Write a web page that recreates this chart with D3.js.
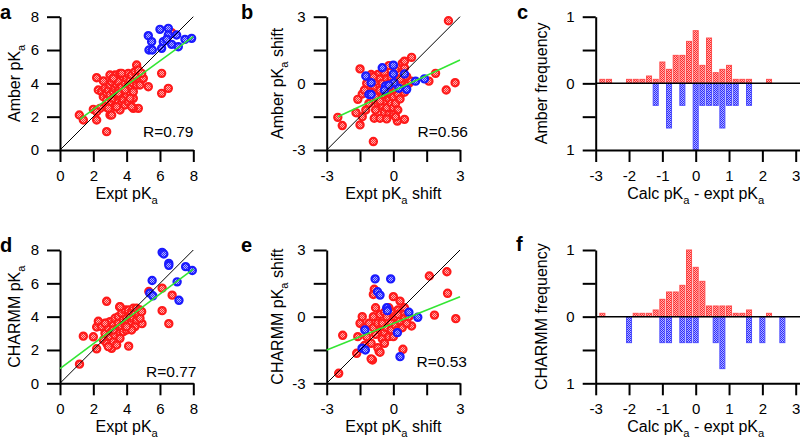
<!DOCTYPE html>
<html>
<head>
<meta charset="utf-8">
<script src="https://cdn.jsdelivr.net/npm/d3@7"></script>
<style>
  body { margin: 0; background: #fff; }
  svg { display: block; }
</style>
</head>
<body>
<svg id="fig"></svg>
<script>
// ---- data ----
// scatter panels: [expt, calc]
const aRed = [[1.16,2.1],[1.4,1.8],[2.0,2.44],[2.2,2.34],[2.2,1.8],[2.2,4.34],[2.3,3.6],[2.8,1.1],[2.6,4.14],[3.0,2.1],[3.1,2.1],[5.3,3.8],[6.1,4.6],[6.1,3.4],[6.5,3.7],[4.7,2.5],[4.4,2.5],[4.4,3.1],[4.6,5.1],[4.9,4.3],[6.7,7.04],
  [2.5,3.5],[2.6,3.2],[2.7,3.7],[2.8,3.4],[2.8,3.0],[2.9,3.6],[3.0,3.3],[3.0,3.9],[3.1,4.1],[3.1,2.9],[3.2,3.5],[3.2,3.1],[3.3,4.5],[3.3,3.7],[3.3,2.6],[3.4,3.9],[3.4,3.3],[3.5,4.1],[3.5,2.9],[3.5,3.6],[3.6,4.6],[3.6,3.2],[3.6,2.4],[3.7,3.8],[3.7,2.8],[3.8,4.4],[3.8,3.5],[3.8,3.0],[3.9,4.0],[3.9,2.7],[4.0,3.7],[4.0,4.3],[4.0,3.3],[4.1,4.6],[4.1,3.9],[4.1,2.9],[4.2,3.5],[4.2,4.2],[4.3,4.5],[4.3,3.8],[4.4,4.0],[4.4,3.5],[4.5,4.7],[4.5,4.2],[4.6,3.9],[4.6,4.4],[4.7,4.8],[4.8,4.1],[4.8,3.9],[5.0,4.3],[3.0,4.5],[2.7,2.6],[3.4,2.6],[3.9,3.6],[4.2,3.1],[2.4,2.5],[2.9,2.5],[3.2,4.3],[3.7,4.6],[4.9,4.6],[4.3,2.6],[3.5,3.4],[2.2,2.3]];
const aBlue = [[5.3,6.86],[5.5,6.5],[5.34,6.0],[5.54,6.0],[6.0,7.24],[6.5,7.3],[6.5,6.9],[6.2,6.5],[6.4,6.64],[6.7,6.34],[6.1,6.1],[7.0,6.9],[7.1,6.2],[7.5,6.64],[7.9,6.7]];
const aFit = [[1.2,1.85],[8,6.8]];

const bRed = [[2.48,2.82],[2.78,0.03],[2.38,-0.3],[1.9,0.45],[1.6,0.1],[0.82,1.17],[-1.5,0.65],[-2.5,-1.53],[-2.3,-1.9],[-1.5,-1.87],[-0.9,-2.62],[0.18,-1.7],[0.5,-1.62],[-0.86,-1.57],[-0.6,-1.57],[-1.6,-0.72],[-1.68,-1.32],[-1.4,-0.48],[-1.24,-1.2],
  [-1.0,0.4],[-0.9,-0.2],[-0.8,0.1],[-0.8,-0.6],[-0.7,-0.9],[-0.7,0.4],[-0.6,-0.3],[-0.6,0.2],[-0.5,-1.0],[-0.5,-0.6],[-0.5,0.0],[-0.4,-1.3],[-0.4,-0.8],[-0.4,0.5],[-0.3,-0.4],[-0.3,-1.1],[-0.3,0.2],[-0.2,-0.7],[-0.2,-1.4],[-0.2,0.0],[-0.1,-0.5],[-0.1,-0.9],[-0.1,0.3],[0.0,-0.2],[0.0,-1.1],[0.0,-0.6],[0.1,0.6],[0.1,-0.3],[0.1,-0.9],[0.2,-1.2],[0.2,0.1],[0.2,-0.5],[0.3,0.4],[0.3,-0.1],[0.3,-0.7],[0.4,0.9],[0.4,0.0],[0.5,0.7],[0.5,-0.4],[0.6,0.3],[0.6,-0.1],[0.7,0.0],[0.8,0.1],[-1.3,-0.3],[-1.2,0.0],[-1.1,-0.9],[-1.0,-0.4],[-0.9,0.3],[-1.4,-1.5],[-0.3,-1.6],[0.0,-1.4],[0.5,1.0],[-0.8,-1.2],[0.3,0.2],[-0.6,-0.8],[0.1,-1.5],[-0.2,0.8]];
const bBlue = [[-1.24,0.33],[-1.0,0.03],[-1.1,-0.5],[-1.0,-0.5],[-0.5,0.7],[-0.35,-0.12],[-0.4,-0.3],[0,0.82],[0,0.42],[0.03,0.03],[0.25,-0.22],[0.5,0.42],[0.6,-0.27],[1.0,0.1],[1.4,0.2],[-0.2,-0.08]];
const bFit = [[-2.5,-1.5],[3,1.05]];

const dRed = [[1.17,1.15],[1.4,2.83],[2.0,2.79],[2.2,2.07],[2.2,3.38],[2.3,3.72],[2.8,4.92],[3.58,4.58],[4.12,2.23],[5.33,5.51],[6.13,5.71],[6.73,5.29],[6.13,4.36],[6.53,3.58],[4.92,3.58],
  [2.5,3.4],[2.6,2.6],[2.7,3.0],[2.8,3.6],[2.8,2.4],[2.9,3.3],[3.0,2.8],[3.0,3.7],[3.1,2.1],[3.1,3.1],[3.2,2.5],[3.2,3.5],[3.3,3.9],[3.3,2.9],[3.4,3.3],[3.4,2.3],[3.5,4.0],[3.5,3.6],[3.6,3.0],[3.6,2.7],[3.7,3.4],[3.7,4.2],[3.8,3.8],[3.8,3.1],[3.9,4.4],[3.9,3.5],[4.0,3.2],[4.0,3.9],[4.1,4.4],[4.1,3.6],[4.2,3.3],[4.2,4.0],[4.3,3.7],[4.3,4.3],[4.4,4.5],[4.4,3.9],[4.5,3.4],[4.5,4.2],[4.6,3.8],[4.6,4.5],[4.7,4.1],[4.8,4.4],[4.8,3.9],[4.9,4.3],[4.3,3.2],[3.2,3.2],[2.9,2.2],[3.6,4.6],[2.7,3.6],[4.0,3.4]];
const dBlue = [[6.13,7.86],[6.23,7.76],[6.53,7.2],[6.53,7.08],[5.53,6.17],[5.39,5.41],[5.57,5.25],[7.03,6.09],[7.54,7.0],[7.94,6.77],[7.14,4.98]];
const dFit = [[0,0.88],[8,6.85]];

const eRed = [[2.41,2.02],[2.44,1.05],[1.62,1.83],[1.85,0.07],[2.81,-0.09],[-2.46,-2.55],[-2.28,-0.84],[-1.65,-1.65],[-0.94,-1.95],[-0.86,1.23],[0.43,-1.47],[-0.64,-1.57],[0.82,-0.42],
  [-1.5,-0.3],[-1.4,0.0],[-1.3,-0.5],[-1.2,-0.9],[-1.1,-0.3],[-1.0,-1.2],[-0.9,-0.5],[-0.9,0.0],[-0.8,-0.8],[-0.8,0.4],[-0.7,-0.3],[-0.7,-1.4],[-0.6,-0.6],[-0.6,0.1],[-0.5,-1.0],[-0.5,-0.3],[-0.4,-0.7],[-0.4,0.2],[-0.4,-1.2],[-0.3,-0.5],[-0.3,0.0],[-0.2,-0.9],[-0.2,0.4],[-0.1,-0.3],[-0.1,-0.6],[0.0,0.2],[0.0,-0.9],[0.1,-0.4],[0.1,0.0],[0.2,0.3],[0.2,-0.6],[0.3,0.7],[0.3,-0.2],[0.4,-0.5],[0.4,0.2],[0.5,0.4],[0.5,-0.1],[0.6,-0.3],[0.7,0.0],[-0.9,1.0],[-1.6,-0.9],[0.2,0.1],[-1.0,-1.9],[-0.6,-1.6],[0.0,0.9],[-1.3,-1.3]];
const eBlue = [[-0.82,1.7],[-0.12,1.7],[-0.71,1.12],[-0.6,0.97],[-0.3,0.4],[-0.27,0.27],[0.7,0.2],[1.1,-0.03],[-1.28,-0.6],[-1.41,-1.42],[-1.26,-1.5],[0.18,-0.72],[0.3,-1.8]];
const eFit = [[-3,-1.5],[3,0.9]];

// histograms: bin centres and frequencies
const binCenters = [-2.8,-2.6,-2.4,-2.2,-2.0,-1.8,-1.6,-1.4,-1.2,-1.0,-0.8,-0.6,-0.4,-0.2,0,0.2,0.4,0.6,0.8,1.0,1.2,1.4,1.6,1.8,2.0,2.2,2.4,2.6];
const cRed  = [0.06,0.06,0,0,0.06,0.06,0.06,0.11,0.06,0.32,0.21,0.42,0.42,0.63,0.79,0.27,0.68,0.16,0.21,0.27,0.06,0.06,0.06,0,0,0.06,0,0];
const cBlue = [0,0,0,0,0,0,0,0,0.33,0,0.67,0,0.33,0,1.0,0.33,0.33,0.33,0.67,0.33,0.33,0,0.33,0,0,0,0,0];
const fRed  = [0.05,0,0,0,0,0.05,0.05,0.05,0.1,0.26,0.37,0.37,0.47,1.0,0.74,0.53,0.16,0.16,0.16,0.16,0.05,0.05,0.1,0,0,0.05,0,0];
const fBlue = [0,0,0,0,0.39,0,0,0,0,0.39,0.39,0,0.39,0.39,0.39,0,0,0.39,0.78,0,0,0,0.39,0,0.39,0,0,0.39];

const scatterTicks = [0, 2, 4, 6, 8];
const shiftTicks = [-3, -1.5, 0, 1.5, 3];
const histXTicks = [-3, -2, -1, 0, 1, 2, 3];
const histYTicks = [-1, -0.5, 0, 0.5, 1];

const FONT = "Arial, 'Liberation Sans', Helvetica, sans-serif";

const svg = d3.select('#fig').attr('width', 800).attr('height', 440);
svg.append('rect').attr('width', 800).attr('height', 440).attr('fill', '#fff');

// checker fills like the original hatched marks
const defs = svg.append('defs');
function checker(id, light, dark) {
  let p = defs.append('pattern').attr('id', id)
    .attr('width', 2).attr('height', 2).attr('patternUnits', 'userSpaceOnUse');
  p.append('rect').attr('width', 2).attr('height', 2).attr('fill', light);
  p.append('rect').attr('width', 1).attr('height', 1).attr('fill', dark);
  p.append('rect').attr('x', 1).attr('y', 1).attr('width', 1).attr('height', 1).attr('fill', dark);
}
checker('redChk', '#ffb4b4', '#ff2a2a');
checker('blueChk', '#b4b4ff', '#2a2aff');

function styleAxis(g) {
  g.attr('font-size', 15).attr('font-family', FONT);
  g.select('.domain').attr('stroke-width', 2);
  g.selectAll('.tick line').attr('stroke-width', 2);
  g.selectAll('.tick text').attr('fill', '#000');
}

// text with subscripts; parts = [[str, isSub], ...]
function richText(sel, parts, size) {
  let sub = false;
  parts.forEach(([s, isSub]) => {
    let t = sel.append('tspan').text(s);
    if (isSub && !sub) t.attr('dy', 5).attr('font-size', size * 0.7);
    else if (!isSub && sub) t.attr('dy', -5);
    sub = isSub;
  });
}

function panelLetter(txt, x, y) {
  svg.append('text').attr('x', x).attr('y', y)
    .attr('font-family', FONT).attr('font-size', 20).attr('font-weight', 'bold')
    .text(txt);
}

function xTitle(parts, cx, y) {
  let t = svg.append('text').attr('x', cx).attr('y', y)
    .attr('text-anchor', 'middle').attr('font-family', FONT).attr('font-size', 16);
  richText(t, parts, 16);
}

function yTitle(parts, x, cy) {
  let t = svg.append('text').attr('transform', `translate(${x},${cy}) rotate(-90)`)
    .attr('text-anchor', 'middle').attr('font-family', FONT).attr('font-size', 16);
  richText(t, parts, 16);
}

function scatterPanel(o) {
  let x = d3.scaleLinear().domain(o.dom).range(o.xr);
  let y = d3.scaleLinear().domain(o.dom).range(o.yr);

  let xAxis = d3.axisBottom(x).tickValues(o.ticks).tickFormat(o.fmt)
    .tickSize(12).tickSizeOuter(0).tickPadding(8);
  let yAxis = d3.axisLeft(y).tickValues(o.ticks).tickFormat(o.fmt)
    .tickSize(13).tickSizeOuter(0).tickPadding(8);

  svg.append('g').attr('transform', `translate(0,${o.yr[0]})`).call(xAxis).call(styleAxis);
  svg.append('g').attr('transform', `translate(${o.xr[0]},0)`).call(yAxis).call(styleAxis);

  let g = svg.append('g');
  g.selectAll('circle.red').data(o.red).enter().append('circle')
    .attr('class', 'red')
    .attr('cx', (d) => x(d[0])).attr('cy', (d) => y(d[1])).attr('r', 3.6)
    .attr('fill', 'url(#redChk)').attr('stroke', '#ff1a1a').attr('stroke-width', 2.2);
  g.selectAll('circle.blue').data(o.blue).enter().append('circle')
    .attr('class', 'blue')
    .attr('cx', (d) => x(d[0])).attr('cy', (d) => y(d[1])).attr('r', 3.6)
    .attr('fill', 'url(#blueChk)').attr('stroke', '#1a1aff').attr('stroke-width', 2.2);

  // identity line
  svg.append('line')
    .attr('x1', x(o.dom[0])).attr('y1', y(o.dom[0]))
    .attr('x2', x(o.dom[1])).attr('y2', y(o.dom[1]))
    .attr('stroke', '#000').attr('stroke-width', 1);
  // fit line
  svg.append('line')
    .attr('x1', x(o.fit[0][0])).attr('y1', y(o.fit[0][1]))
    .attr('x2', x(o.fit[1][0])).attr('y2', y(o.fit[1][1]))
    .attr('stroke', '#33e633').attr('stroke-width', 1.6);

  svg.append('text').attr('x', o.rx).attr('y', o.ry)
    .attr('text-anchor', 'end').attr('font-family', FONT).attr('font-size', 15.5)
    .text(o.rText);

  xTitle(o.xTitle, (o.xr[0] + o.xr[1]) / 2, o.yr[0] + 48.5);
  yTitle(o.yTitle, o.ytx, (o.yr[0] + o.yr[1]) / 2);
}

function histPanel(o) {
  let x = d3.scaleLinear().domain([-3, 3]).range(o.xr);
  let xLong = d3.scaleLinear().domain([-3, x.invert(800)]).range([o.xr[0], 800]);
  let y = d3.scaleLinear().domain([-1, 1]).range(o.yr);
  let bw = 5;

  svg.append('g').selectAll('rect').data(binCenters.map((c, i) => [c, o.red[i]]).filter((d) => d[1] > 0))
    .enter().append('rect')
    .attr('x', (d) => x(d[0]) - bw / 2).attr('y', (d) => y(d[1]))
    .attr('width', bw).attr('height', (d) => y(0) - y(d[1]))
    .attr('fill', 'url(#redChk)').attr('stroke', '#ff4d4d').attr('stroke-width', 1);

  svg.append('g').selectAll('rect').data(binCenters.map((c, i) => [c, o.blue[i]]).filter((d) => d[1] > 0))
    .enter().append('rect')
    .attr('x', (d) => x(d[0]) - bw / 2).attr('y', y(0))
    .attr('width', bw).attr('height', (d) => y(-d[1]) - y(0))
    .attr('fill', 'url(#blueChk)').attr('stroke', '#4d4dff').attr('stroke-width', 1);

  svg.append('line')
    .attr('x1', x(-3)).attr('x2', 800).attr('y1', y(0)).attr('y2', y(0))
    .attr('stroke', '#000').attr('stroke-width', 1.5);

  let xAxis = d3.axisBottom(xLong).tickValues(histXTicks).tickFormat((d) => String(d))
    .tickSize(12).tickSizeOuter(0).tickPadding(8);
  let yAxis = d3.axisLeft(y).tickValues(histYTicks)
    .tickFormat((d) => Number.isInteger(d) ? String(Math.abs(d)) : '')
    .tickSize(13).tickSizeOuter(0).tickPadding(8);

  svg.append('g').attr('transform', `translate(0,${o.yr[0]})`).call(xAxis).call(styleAxis);
  svg.append('g').attr('transform', `translate(${o.xr[0]},0)`).call(yAxis).call(styleAxis);

  xTitle([['Calc pK', false], ['a', true], [' - expt pK', false], ['a', true]],
    (o.xr[0] + o.xr[1]) / 2, o.yr[0] + 48.5);
  yTitle([[o.yTitle, false]], o.ytx, (o.yr[0] + o.yr[1]) / 2);
}

const shiftFmt = (d) => (d % 3 === 0 ? String(d) : '');
const plainFmt = (d) => String(d);

scatterPanel({ dom: [0, 8], xr: [60, 193.3], yr: [150, 16.7], ticks: scatterTicks, fmt: plainFmt,
  red: aRed, blue: aBlue, fit: aFit, rText: 'R=0.79', rx: 193.5, ry: 137,
  xTitle: [['Expt pK', false], ['a', true]], yTitle: [['Amber pK', false], ['a', true]], ytx: 20 });
scatterPanel({ dom: [-3, 3], xr: [326.7, 460], yr: [150, 16.7], ticks: shiftTicks, fmt: shiftFmt,
  red: bRed, blue: bBlue, fit: bFit, rText: 'R=0.56', rx: 468, ry: 137,
  xTitle: [['Expt pK', false], ['a', true], [' shift', false]],
  yTitle: [['Amber pK', false], ['a', true], [' shift', false]], ytx: 283 });
histPanel({ xr: [595.7, 795.7], yr: [150, 16.7], red: cRed, blue: cBlue, yTitle: 'Amber frequency', ytx: 547 });

scatterPanel({ dom: [0, 8], xr: [60, 193.3], yr: [383.3, 250], ticks: scatterTicks, fmt: plainFmt,
  red: dRed, blue: dBlue, fit: dFit, rText: 'R=0.77', rx: 196.5, ry: 377,
  xTitle: [['Expt pK', false], ['a', true]], yTitle: [['CHARMM pK', false], ['a', true]], ytx: 20 });
scatterPanel({ dom: [-3, 3], xr: [326.7, 460], yr: [383.3, 250], ticks: shiftTicks, fmt: shiftFmt,
  red: eRed, blue: eBlue, fit: eFit, rText: 'R=0.53', rx: 467, ry: 367,
  xTitle: [['Expt pK', false], ['a', true], [' shift', false]],
  yTitle: [['CHARMM pK', false], ['a', true], [' shift', false]], ytx: 283 });
histPanel({ xr: [595.7, 795.7], yr: [383.3, 250], red: fRed, blue: fBlue, yTitle: 'CHARMM frequency', ytx: 547 });

panelLetter('a', 0, 19);
panelLetter('b', 241, 19);
panelLetter('c', 517, 19);
panelLetter('d', 0, 252);
panelLetter('e', 241, 252);
panelLetter('f', 516, 251);
</script>
</body>
</html>
